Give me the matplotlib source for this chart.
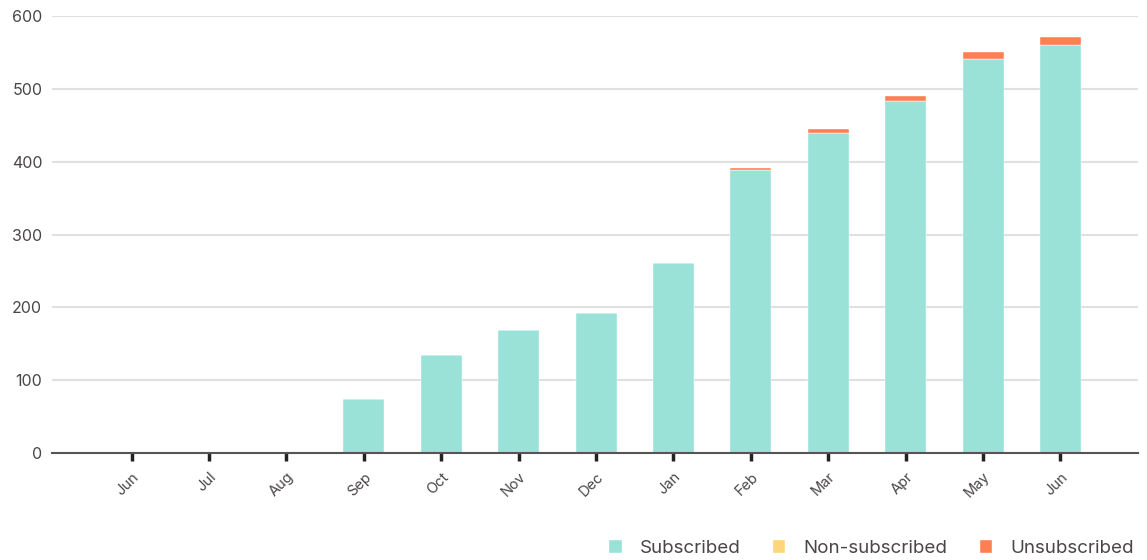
import matplotlib.pyplot as plt
import numpy as np

months = ["Jun", "Jul", "Aug", "Sep", "Oct", "Nov", "Dec", "Jan", "Feb", "Mar", "Apr", "May", "Jun"]
subscribed = [0, 0, 2, 74, 135, 169, 192, 261, 389, 440, 484, 541, 560]
non_subscribed = [0, 0, 0, 0, 0, 0, 0, 0, 0, 0, 0, 0, 0]
unsubscribed = [0, 0, 0, 0, 0, 0, 0, 0, 3, 5, 6, 10, 12]

c_sub = "#9ae1d7"
c_non = "#fdd57a"
c_uns = "#fe7f4f"
txt = "#4a4646"

plt.rcParams['font.family'] = ['Inter', 'DejaVu Sans']

fig = plt.figure(figsize=(11.47, 5.6), dpi=100)
ax = fig.add_axes([0.0453, 0.191, 0.9467, 0.780])

x = np.arange(len(months))
sub = np.array(subscribed)
non = np.array(non_subscribed)
uns = np.array(unsubscribed)
w = 0.53
ax.bar(x, sub, w, color=c_sub, edgecolor="white", linewidth=0.3, label="Subscribed", zorder=3)
ax.bar(x, non, w, bottom=sub, color=c_non, edgecolor="white", linewidth=0.3, label="Non-subscribed", zorder=3)
ax.bar(x, uns, w, bottom=sub + non, color=c_uns, edgecolor="white", linewidth=0.3, label="Unsubscribed", zorder=3)

ax.set_xlim(-1.03, 13.0)
ax.set_ylim(0, 600)
ax.set_yticks([0, 100, 200, 300, 400, 500, 600])
ax.yaxis.grid(True, color="#e0e0e0", linewidth=1.5, zorder=0)
ax.set_axisbelow(True)
for s in ["top", "right", "left"]:
    ax.spines[s].set_visible(False)
ax.spines["bottom"].set_color("#555555")
ax.spines["bottom"].set_linewidth(1.5)
ax.spines["bottom"].set_zorder(4)

ax.set_xticks(x)
ax.set_xticklabels(months, rotation=45, ha="right", rotation_mode="anchor", fontsize=10.5, color=txt)
ax.tick_params(axis="x", length=6, width=2.5, color="#222222", pad=6)
ax.tick_params(axis="y", length=0, labelsize=11.5, labelcolor=txt, pad=7)

leg = fig.legend(loc="lower right", bbox_to_anchor=(1.003, -0.025), ncol=3, frameon=False,
                 fontsize=13.5, handlelength=0.65, handleheight=0.65, handletextpad=0.95,
                 columnspacing=1.75)
for t in leg.get_texts():
    t.set_color(txt)

fig.savefig("out.png", dpi=100)
